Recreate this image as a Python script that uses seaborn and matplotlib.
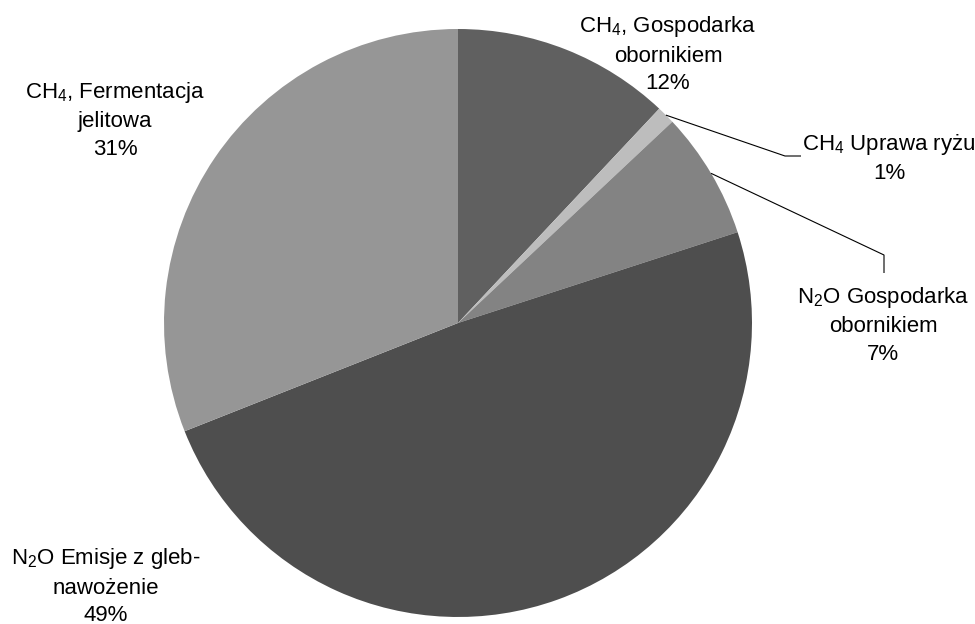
import matplotlib
matplotlib.use("Agg")
import matplotlib.pyplot as plt
import seaborn as sns
import numpy as np

# Agricultural greenhouse-gas emissions by source (percent share)
categories = [
    "CH$_\\mathregular{4}$, Gospodarka\nobornikiem",
    "CH$_\\mathregular{4}$ Uprawa ryżu",
    "N$_\\mathregular{2}$O Gospodarka\nobornikiem",
    "N$_\\mathregular{2}$O Emisje z gleb-\nnawożenie",
    "CH$_\\mathregular{4}$, Fermentacja\njelitowa",
]
shares = [12, 1, 7, 49, 31]
colors = ["#606060", "#bdbdbd", "#838383", "#4e4e4e", "#969696"]

sns.set_theme(style="white")
plt.rcParams["font.family"] = ["Liberation Sans", "DejaVu Sans"]

W, H = 975, 624
CX, CY, R = 458, 323, 294  # pie centre and radius in pixels (y from top)

# label centres (pixels, y from top)
label_pos = [(668, 54), (889, 158), (883, 325), (106, 586), (115, 120)]
# leader lines: (index, elbow point, end point) in pixels
leaders = [(1, (785, 156), (801, 156)), (2, (884, 255), (884, 273))]

fig = plt.figure(figsize=W / 100 * np.array([1, H / W]), dpi=100)
ax = fig.add_axes([0, 0, 1, 1])

ax.pie(shares, colors=colors, startangle=90, counterclock=False,
       center=(CX, H - CY), radius=R, wedgeprops=dict(linewidth=0))
ax.set_xlim(0, W)
ax.set_ylim(0, H)
ax.set_aspect("equal", adjustable="box")
ax.axis("off")

total = sum(shares)
for cat, val, (lx, ly) in zip(categories, shares, label_pos):
    ax.text(lx, H - ly, f"{cat}\n{val}%", ha="center", va="center",
            multialignment="center", fontsize=16, linespacing=1.4,
            color="black")

cum = np.cumsum([0] + shares)
for idx, elbow, end in leaders:
    mid = 90 - 360 * (cum[idx] + shares[idx] / 2) / total
    sx = CX + R * np.cos(np.radians(mid))
    sy = CY - R * np.sin(np.radians(mid))
    xs = [sx, elbow[0], end[0]]
    ys = [H - sy, H - elbow[1], H - end[1]]
    ax.plot(xs, ys, color="black", linewidth=0.8, solid_capstyle="butt")

fig.savefig("out.png", dpi=100)
